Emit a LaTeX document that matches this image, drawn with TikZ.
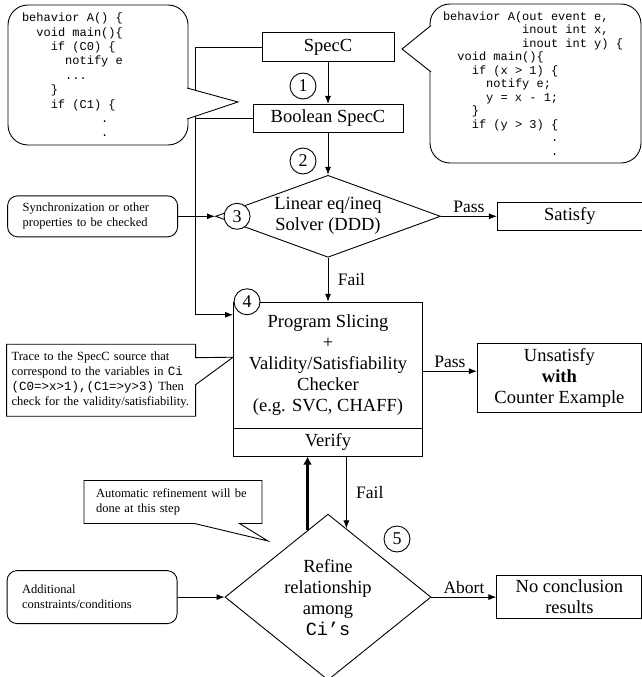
\documentclass[tikz,border=0pt]{standalone}
\usepackage{fontspec}
\setmainfont{Liberation Serif}
\setmonofont{Liberation Mono}
\usetikzlibrary{arrows.meta,positioning,shapes.geometric,shapes.callouts,calc}

\newcommand{\ind}[1]{\hspace*{\dimexpr #1em*6/10\relax}}
\newcommand{\codesp}{\spaceskip=0.6em\relax}

\begin{document}
\begin{tikzpicture}[
  x=1pt, y=-1pt,
  >={Latex[length=8pt,width=6pt]},
  line width=0.9pt,
  box/.style={draw, align=center, inner sep=2pt, font=\fontsize{18.5}{21}\selectfont},
  cond/.style={draw, diamond, align=center, inner sep=0pt, font=\fontsize{18.5}{21}\selectfont},
  num/.style={draw, circle, fill=white, minimum size=26pt, inner sep=0pt, font=\fontsize{18}{20}\selectfont},
  code/.style={draw, rounded corners=20pt, align=left},
  note/.style={draw, align=left, font=\fontsize{12.5}{15}\selectfont},
  soft/.style={note, rounded corners=10pt, text width=140pt, inner xsep=15pt},
  lbl/.style={font=\fontsize{17.5}{20}\selectfont},
  line/.style={->},
  heavy/.style={-{Latex[length=8pt,width=9pt]}, line width=3pt}
]
\useasboundingbox (0,0) rectangle (642,677);

\node[box, minimum width=132pt, minimum height=29pt] (specc) at (328,47) {SpecC};
\node[box, minimum width=150pt, minimum height=28pt, below=42pt of specc] (boolspec) {Boolean SpecC};
\node[cond, minimum width=225pt, minimum height=82pt, shape aspect=2.7, below=42pt of boolspec] (solver) {Linear eq/ineq\\Solver (DDD)};
\node[box, minimum width=189pt, minimum height=126pt, below=44pt of solver] (check) {Program Slicing\\+\\Validity/Satisfiability\\Checker\\(e.g. SVC, CHAFF)};
\node[box, minimum width=189pt, minimum height=28pt, below=-0.9pt of check] (verify) {Verify};
\node[cond, minimum width=206pt, minimum height=166pt, shape aspect=1.24, below=57pt of verify] (refine) {Refine\\relationship\\among\\\texttt{Ci’s}};

\node[box, minimum width=145pt, minimum height=28pt, right=56pt of solver] (satisfy) {Satisfy};
\node[box, minimum width=164pt, minimum height=69pt, right=54pt of check, yshift=-13pt] (unsat) {Unsatisfy\\\textbf{with}\\Counter Example};
\node[box, minimum width=145pt, minimum height=43pt, right=65pt of refine] (noconc) {No conclusion\\results};

\node[soft, minimum height=41pt, left=37pt of solver] (sync) {Synchronization or other\\properties to be checked};
\node[soft, minimum height=53pt, left=47pt of refine] (addl) {Additional\\constraints/conditions};
\node[note, rectangle callout, text width=179pt, inner xsep=5pt, minimum height=72pt,
  callout absolute pointer={([yshift=8pt]check.west)}, callout pointer width=27pt,
  left=37pt of check, yshift=-15pt] (trace)
  {Trace to the SpecC source that\\correspond to the variables in \texttt{Ci}\\\texttt{(C0=>x>1),(C1=>y>3)} Then\\check for the validity/satisfiability.};
\coordinate (autotip) at (268,541);
\node[note, rectangle callout, text width=154pt, inner xsep=12pt, minimum height=43pt,
  callout absolute pointer={(autotip)}, callout pointer width=45pt] (autonote) at (173,502)
  {Automatic refinement will be\\done at this step};

\draw[line] (specc.west) -- ++(-66,0) coordinate (rail) |- ([yshift=-13pt]check.north west);
\draw (boolspec.west) -- (boolspec.west -| rail);

\node[code, font=\ttfamily\fontsize{12}{14.4}\selectfont, text width=152pt, inner xsep=14pt, minimum height=140pt] (codeA) at (98,75)
  {\codesp behavior A() \{\\
   \ind{2}void main()\{\\
   \ind{4}if (C0) \{\\
   \ind{6}notify e\\
   \ind{6}...\\
   \ind{4}\}\\
   \ind{4}if (C1) \{\\
   \ind{11}.\\
   \ind{11}.};
\node[code, font=\ttfamily\fontsize{12}{13.5}\selectfont, text width=185pt, inner xsep=13pt, minimum height=159pt] (codeB) at (535.5,83.5)
  {\codesp behavior A(out event e,\\
   \ind{11}inout int x,\\
   \ind{11}inout int y) \{\\
   \ind{2}void main()\{\\
   \ind{4}if (x > 1) \{\\
   \ind{6}notify e;\\
   \ind{6}y = x - 1;\\
   \ind{4}\}\\
   \ind{4}if (y > 3) \{\\
   \ind{15}.\\
   \ind{15}.};
\coordinate (tipA) at (238,102);
\coordinate (tipB) at (402,49);
\filldraw[fill=white] ([xshift=-1.5pt,yshift=-13pt]codeA.east) -- (tipA) -- ([xshift=-1.5pt,yshift=-44pt]codeA.east);
\filldraw[fill=white] ([xshift=1.5pt,yshift=58pt]codeB.west) -- (tipB) -- ([xshift=1.5pt,yshift=11.5pt]codeB.west);

\draw[line] (specc) -- (boolspec);
\draw[line] (boolspec) -- (solver);
\draw[line] (sync) -- (solver);
\draw[line] (solver) -- (satisfy) node[lbl, midway, above] {Pass};
\draw[line] (solver) -- (check) node[lbl, midway, right, xshift=6pt] {Fail};
\draw[line] ([yshift=-6pt]check.east) -- ([yshift=-6pt]check.east -| unsat.west) node[lbl, midway, above] {Pass};
\draw[heavy] (refine.107) -- (refine.107 |- verify.south);
\draw[line] (verify.south -| refine.75) -- (refine.75) node[lbl, midway, right, xshift=6pt] {Fail};
\draw[line] (addl) -- (refine);
\draw[line] (refine) -- (noconc) node[lbl, midway, above] {Abort};

\node[num] (n1) at (303,86) {1};
\node[num] (n2) at (303,161) {2};
\node[num] (n3) at ([xshift=22pt]solver.west) {3};
\node[num] (n4) at ([xshift=14pt]check.north west) {4};
\node[num] (n5) at (397,539) {5};

\end{tikzpicture}
\end{document}
